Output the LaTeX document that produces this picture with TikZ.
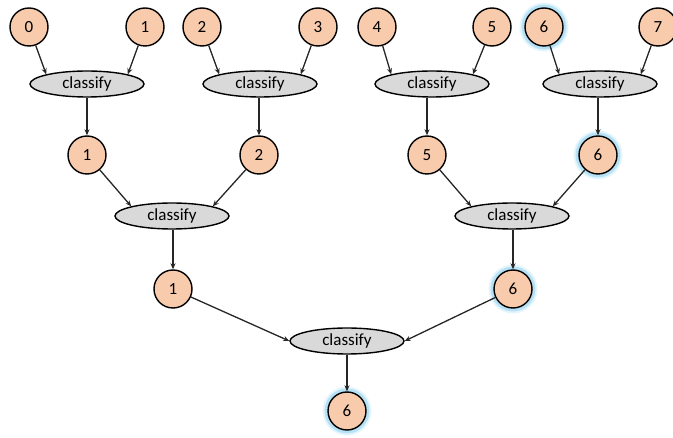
\documentclass[tikz,border=0pt]{standalone}
\usepackage{fontspec}
\setmainfont{Carlito}
\usetikzlibrary{shapes.geometric,arrows.meta}
\definecolor{peach}{HTML}{F8CBAD}
\definecolor{ellgray}{HTML}{D9D9D9}
\definecolor{glowc}{HTML}{7FCBEF}
\tikzset{
  val/.style={circle, draw=black, line width=1.4pt, fill=peach, minimum size=38pt, inner sep=0pt, font=\fontsize{17}{19}\selectfont},
  glowing/.style={preaction={draw=glowc, line width=11pt, opacity=0.2},
                  preaction={draw=glowc, line width=7pt, opacity=0.45}},
  cls/.style={ellipse, draw=black, line width=1.4pt, fill=ellgray, minimum width=114pt, minimum height=26pt, inner sep=0pt, font=\fontsize{17}{19}\selectfont},
  arr/.style={draw=black!85, line width=1.3pt, -{Stealth[length=6pt,width=5pt]}}
}
\begin{document}
\begin{tikzpicture}[x=1pt,y=-1pt]
\useasboundingbox (0,0) rectangle (673,438);
% top row
\node[val] (t0) at (29,27) {0};
\node[val] (t1) at (145,27) {1};
\node[val] (t2) at (202,27) {2};
\node[val] (t3) at (318,27) {3};
\node[val] (t4) at (377,27) {4};
\node[val] (t5) at (492,27) {5};
\node[val,glowing] (t6) at (544,27) {6};
\node[val] (t7) at (658,27) {7};
% first classify row
\node[cls] (a1) at (87,84) {classify};
\node[cls] (a2) at (260,84) {classify};
\node[cls] (a3) at (432,84) {classify};
\node[cls] (a4) at (600,84) {classify};
% second value row
\node[val] (m1) at (87,155) {1};
\node[val] (m2) at (259,155) {2};
\node[val] (m3) at (427,155) {5};
\node[val,glowing] (m4) at (598,155) {6};
% second classify row
\node[cls] (b1) at (172,216) {classify};
\node[cls] (b2) at (512,216) {classify};
% third value row
\node[val] (n1) at (173,289) {1};
\node[val,glowing] (n2) at (513,289) {6};
% final classify
\node[cls] (c) at (347,341) {classify};
\node[val,glowing] (r) at (347,411) {6};
% connectors
\draw[arr] (t0) -- (a1.north west);
\draw[arr] (t1) -- (a1.north east);
\draw[arr] (t2) -- (a2.north west);
\draw[arr] (t3) -- (a2.north east);
\draw[arr] (t4) -- (a3.north west);
\draw[arr] (t5) -- (a3.north east);
\draw[arr] (t6) -- (a4.north west);
\draw[arr] (t7) -- (a4.north east);
\draw[arr] (m1 |- a1.south) -- (m1);
\draw[arr] (m2 |- a2.south) -- (m2);
\draw[arr] (m3 |- a3.south) -- (m3);
\draw[arr] (m4 |- a4.south) -- (m4);
\draw[arr] (m1) -- (b1.north west);
\draw[arr] (m2) -- (b1.north east);
\draw[arr] (m3) -- (b2.north west);
\draw[arr] (m4) -- (b2.north east);
\draw[arr] (n1 |- b1.south) -- (n1);
\draw[arr] (n2 |- b2.south) -- (n2);
\draw[arr] (n1) -- (c.west);
\draw[arr] (n2) -- (c.east);
\draw[arr] (c) -- (r);
\end{tikzpicture}
\end{document}
